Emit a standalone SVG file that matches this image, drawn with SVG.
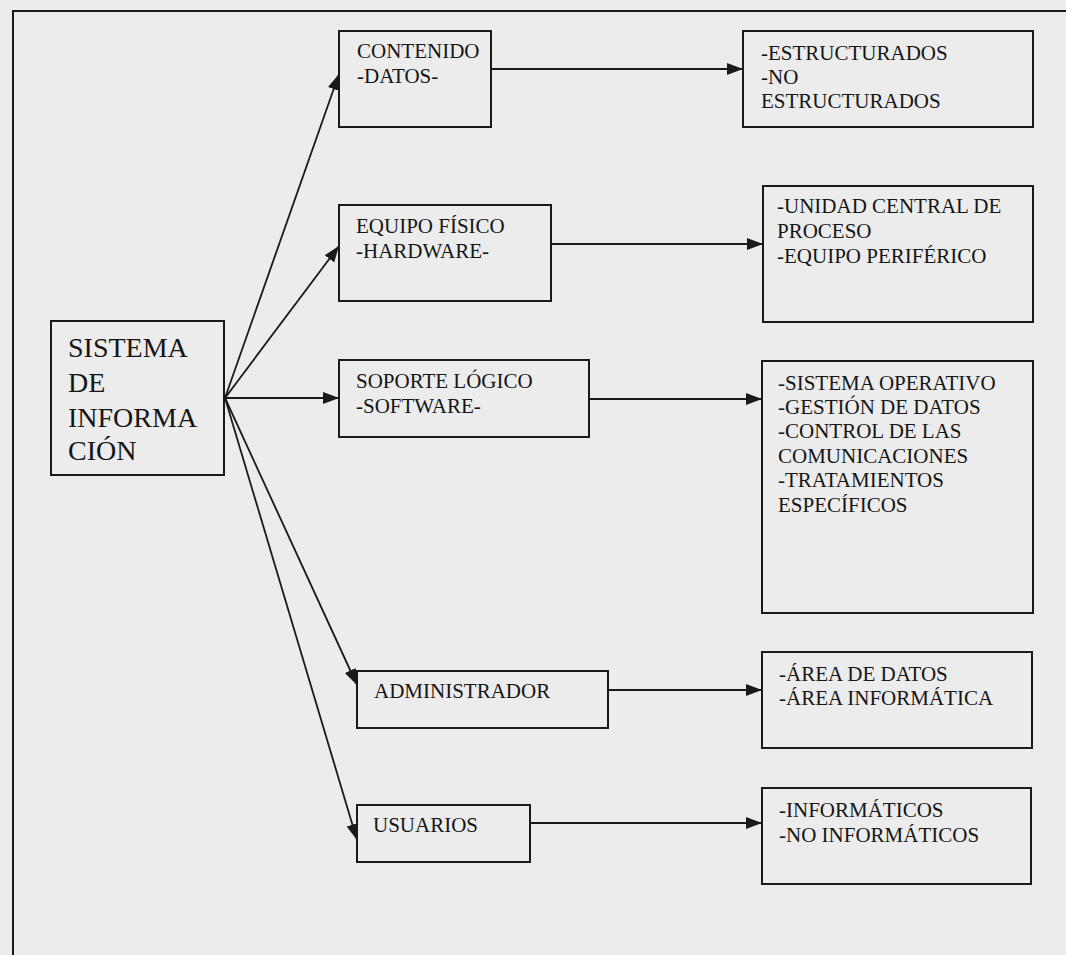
<svg xmlns="http://www.w3.org/2000/svg" width="1066" height="955" viewBox="0 0 1066 955">
<style>
.box{fill:none;stroke:#1a1a1a;stroke-width:2}
text{font-family:'Liberation Serif','Times New Roman','DejaVu Serif',Times,serif;fill:#151515}
.t{font-size:21px}
.big{font-size:28px}
.ln{stroke:#1a1a1a;stroke-width:1.8;fill:none;marker-end:url(#ah)}
</style>
<defs>
<marker id="ah" markerUnits="userSpaceOnUse" markerWidth="17" markerHeight="13" refX="16" refY="6" orient="auto">
<path d="M0,0 L16,6 L0,12 z" fill="#1a1a1a"/>
</marker>
</defs>
<rect x="0" y="0" width="1066" height="955" fill="#ececec"/>
<path d="M13,960 L13,11 L1070,11" fill="none" stroke="#1a1a1a" stroke-width="2"/>

<g id="connectors">
<line class="ln" x1="225" y1="398" x2="339" y2="74"/>
<line class="ln" x1="225" y1="398" x2="339" y2="246"/>
<line class="ln" x1="225" y1="398" x2="339" y2="398"/>
<line class="ln" x1="225" y1="398" x2="357" y2="685"/>
<line class="ln" x1="225" y1="398" x2="357" y2="840"/>
<line class="ln" x1="491" y1="69" x2="743" y2="69"/>
<line class="ln" x1="551" y1="244" x2="763" y2="244"/>
<line class="ln" x1="589" y1="399" x2="762" y2="399"/>
<line class="ln" x1="608" y1="690" x2="762" y2="690"/>
<line class="ln" x1="530" y1="823" x2="762" y2="823"/>
</g>

<g id="sistema">
<rect class="box" x="51" y="321" width="173" height="154"/>
<text class="big" x="68" y="357">SISTEMA</text>
<text class="big" x="68" y="392">DE</text>
<text class="big" x="68" y="427">INFORMA</text>
<text class="big" x="68" y="460">CIÓN</text>
</g>

<g id="contenido">
<rect class="box" x="339" y="31" width="152" height="96"/>
<text class="t" x="357" y="58">CONTENIDO</text>
<text class="t" x="357" y="83">-DATOS-</text>
</g>

<g id="equipo">
<rect class="box" x="339" y="205" width="212" height="96"/>
<text class="t" x="356" y="233">EQUIPO FÍSICO</text>
<text class="t" x="356" y="258">-HARDWARE-</text>
</g>

<g id="soporte">
<rect class="box" x="339" y="360" width="250" height="77"/>
<text class="t" x="356" y="388">SOPORTE LÓGICO</text>
<text class="t" x="356" y="413">-SOFTWARE-</text>
</g>

<g id="administrador">
<rect class="box" x="357" y="671" width="251" height="57"/>
<text class="t" x="374" y="698">ADMINISTRADOR</text>
</g>

<g id="usuarios">
<rect class="box" x="357" y="805" width="173" height="57"/>
<text class="t" x="373" y="832">USUARIOS</text>
</g>

<g id="datos-tipos">
<rect class="box" x="743" y="31" width="290" height="96"/>
<text class="t" x="761" y="60">-ESTRUCTURADOS</text>
<text class="t" x="761" y="84">-NO</text>
<text class="t" x="761" y="108">ESTRUCTURADOS</text>
</g>

<g id="hardware-tipos">
<rect class="box" x="763" y="186" width="270" height="136"/>
<text class="t" x="777" y="213">-UNIDAD CENTRAL DE</text>
<text class="t" x="777" y="238">PROCESO</text>
<text class="t" x="777" y="263">-EQUIPO PERIFÉRICO</text>
</g>

<g id="software-tipos">
<rect class="box" x="762" y="361" width="271" height="252"/>
<text class="t" x="778" y="390">-SISTEMA OPERATIVO</text>
<text class="t" x="778" y="414">-GESTIÓN DE DATOS</text>
<text class="t" x="778" y="438">-CONTROL DE LAS</text>
<text class="t" x="778" y="463">COMUNICACIONES</text>
<text class="t" x="778" y="487">-TRATAMIENTOS</text>
<text class="t" x="778" y="512">ESPECÍFICOS</text>
</g>

<g id="administrador-tipos">
<rect class="box" x="762" y="652" width="270" height="96"/>
<text class="t" x="779" y="681">-ÁREA DE DATOS</text>
<text class="t" x="779" y="705">-ÁREA INFORMÁTICA</text>
</g>

<g id="usuarios-tipos">
<rect class="box" x="762" y="788" width="269" height="96"/>
<text class="t" x="779" y="817">-INFORMÁTICOS</text>
<text class="t" x="779" y="842">-NO INFORMÁTICOS</text>
</g>
</svg>
